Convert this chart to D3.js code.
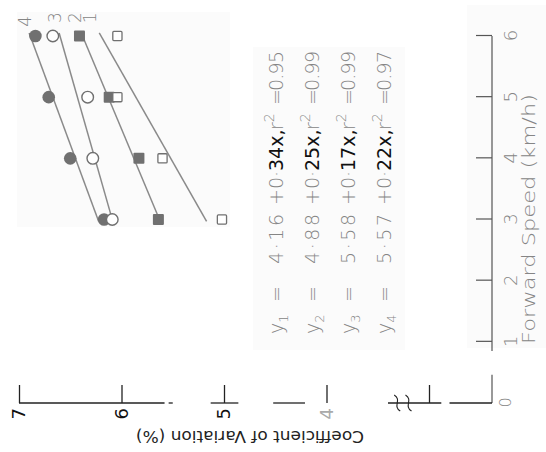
<!DOCTYPE html>
<html>
<head>
<meta charset="utf-8">
<script src="https://cdn.jsdelivr.net/npm/d3@7"></script>
<style>
  html, body { margin: 0; padding: 0; background: #fff; }
  svg { display: block; }
  text { font-family: "DejaVu Sans", "Liberation Sans", sans-serif; }
</style>
</head>
<body>
<svg id="chart" width="546" height="452"></svg>
<script>
(function(){
'use strict';

// forward speed (km/h) at which CV was measured
var speeds = [3, 4, 5, 6];
var seriesNames = ['1', '2', '3', '4'];

// coefficient of variation (%)
var cvSeries1 = [5.02, 5.60, 6.04, 6.04];
var cvSeries2 = [5.64, 5.83, 6.12, 6.41];
var cvSeries3 = [6.09, 6.28, 6.33, 6.67];
var cvSeries4 = [6.17, 6.50, 6.71, 6.84];

// fitted lines y = a + b x
var intercepts = [4.16, 4.88, 5.58, 5.57];
var slopes = [0.34, 0.25, 0.17, 0.22];
var rSquared = ['0.95', '0.99', '0.99', '0.97'];

var speedTicks = [0, 1, 2, 3, 4, 5, 6];
var cvTicks = [7, 6, 5, 4, 3];
var cvTickLabels = ['7', '6', '5', '4', ''];

// the scanned axis line is broken in places (values in axis units)
var cvAxisPieces = [[7, 5.58], [5.54, 5.50], [5.13, 4.86], [4.52, 4.21], [3.40, 2.88], [2.80, 0]];
var speedAxisPieces = [[0, 0.46], [0.85, 6]];

var W = 452;   // the chart is drawn upright, then turned a quarter left

var svg = d3.select('#chart');
var g = svg.append('g').attr('transform', 'translate(0,' + W + ') rotate(-90)');

var x = d3.scaleLinear().domain([0, 6]).range([49, 416]);
var y = d3.scaleLinear().domain([3, 7]).range([429, 19]);
var originY = 492;
var yb = function(v) { return v >= 2.5 ? y(v) : originY; };

var grey = '#707070', lineGrey = '#8a8a8a', textGrey = '#858585';

// faint paste-up patches of the original figure
[[225, 17, 215, 213], [102, 253, 303, 152], [104, 467, 343, 79]].forEach(function(r) {
    g.append('rect').attr('x', r[0]).attr('y', r[1]).attr('width', r[2]).attr('height', r[3])
        .attr('fill', '#fbfbfb');
});

// x axis (forward speed)
var xAxis = d3.axisBottom(x).tickValues(speedTicks).tickSizeInner(-16).tickSizeOuter(0).tickPadding(12)
    .tickFormat(d3.format('d'));
var gx = g.append('g').attr('transform', 'translate(0,' + originY + ')').call(xAxis);
gx.select('.domain').remove();
gx.selectAll('.tick line').attr('stroke', '#555').attr('stroke-width', 1.2);
gx.selectAll('.tick text').attr('font-size', 18).attr('fill', textGrey)
    .attr('font-family', '"DejaVu Sans", sans-serif').attr('font-weight', 300);
gx.selectAll('.tick').filter(function(d) { return d === 0; }).select('line').remove();
gx.selectAll('.tick').filter(function(d) { return d === 0; }).select('text')
    .attr('y', 8).attr('font-size', 16);
speedAxisPieces.forEach(function(p) {
    gx.append('line').attr('x1', x(p[0])).attr('x2', x(p[1])).attr('y1', 0).attr('y2', 0)
        .attr('stroke', '#555').attr('stroke-width', 1.2);
});

// y axis (coefficient of variation)
var yAxis = d3.axisLeft(y).tickValues(cvTicks).tickSizeInner(-18).tickSizeOuter(0).tickPadding(5)
    .tickFormat(function(d, i) { return cvTickLabels[i]; });
var gy = g.append('g').attr('transform', 'translate(' + x(0) + ',0)').call(yAxis);
gy.select('.domain').remove();
gy.selectAll('.tick line').attr('stroke', '#222').attr('stroke-width', 1.3);
gy.selectAll('.tick text').attr('font-size', 18)
    .attr('font-family', '"DejaVu Sans", sans-serif')
    .attr('fill', function(d) { return d === 4 ? '#aaa' : '#111'; });
cvAxisPieces.forEach(function(p) {
    gy.append('line').attr('x1', 0).attr('x2', 0).attr('y1', yb(p[0])).attr('y2', yb(p[1]))
        .attr('stroke', '#222').attr('stroke-width', 1.3);
});
// break marks
[3.31, 3.2].forEach(function(v) {
    var c = y(v);
    gy.append('path')
        .attr('d', 'M8,' + (c - 3) + ' C3,' + (c + 5) + ' -3,' + (c - 5) + ' -8,' + (c + 3))
        .attr('fill', 'none').attr('stroke', '#222').attr('stroke-width', 1.1);
});

// axis titles
g.append('text').attr('x', 108).attr('y', 535)
    .attr('font-size', 17).attr('font-weight', 300).attr('fill', textGrey)
    .attr('textLength', 250).attr('lengthAdjust', 'spacingAndGlyphs')
    .text('Forward  Speed (km/h)');
g.append('text').attr('transform', 'translate(15,250) rotate(-90)')
    .attr('text-anchor', 'middle').attr('dy', '0.35em')
    .attr('font-size', 16).attr('fill', '#222')
    .attr('textLength', 228).attr('lengthAdjust', 'spacingAndGlyphs')
    .text('Coefficient of Variation (%)');

// fitted lines
var fitDomain = [2.97, 6.05];
var line = d3.line().x(function(d) { return x(d[0]); }).y(function(d) { return y(d[1]); });
intercepts.forEach(function(a, i) {
    var pts = fitDomain.map(function(s) { return [s, a + slopes[i] * s]; });
    g.append('path').attr('d', line(pts)).attr('fill', 'none')
        .attr('stroke', lineGrey).attr('stroke-width', 1.5);
});

// series labels at the top end of each line
seriesNames.forEach(function(name, i) {
    var s = i === 3 ? 6.24 : 6.3;
    g.append('text').attr('x', x(s)).attr('y', y(intercepts[i] + slopes[i] * s))
        .attr('text-anchor', 'middle').attr('dy', '0.35em')
        .attr('font-size', 17).attr('font-weight', 300).attr('fill', textGrey)
        .text(name);
});

// markers: filled ones first, open ones on top
var pairs = function(vals) { return vals.map(function(v, i) { return [speeds[i], v]; }); };

g.append('g').selectAll('circle').data(pairs(cvSeries4)).enter().append('circle')
    .attr('cx', function(d) { return x(d[0]); }).attr('cy', function(d) { return y(d[1]); })
    .attr('r', 6.3).attr('fill', grey);

g.append('g').selectAll('rect').data(pairs(cvSeries2)).enter().append('rect')
    .attr('x', function(d) { return x(d[0]) - 5.5; }).attr('y', function(d) { return y(d[1]) - 5.5; })
    .attr('width', 11).attr('height', 11).attr('rx', 1).attr('fill', grey);

g.append('g').selectAll('circle').data(pairs(cvSeries3)).enter().append('circle')
    .attr('cx', function(d) { return x(d[0]); }).attr('cy', function(d) { return y(d[1]); })
    .attr('r', 5.8).attr('fill', '#fff').attr('stroke', grey).attr('stroke-width', 1.4);

g.append('g').selectAll('rect').data(pairs(cvSeries1)).enter().append('rect')
    .attr('x', function(d) { return x(d[0]) - 4.6; }).attr('y', function(d) { return y(d[1]) - 4.6; })
    .attr('width', 9.2).attr('height', 9.2).attr('rx', 1)
    .attr('fill', '#fff').attr('stroke', grey).attr('stroke-width', 1.3);

// regression equations
var fmt = function(v) { return v.toFixed(2).replace('.', '\u00b7'); };
var rowY = [283, 319, 355, 391];
intercepts.forEach(function(a, i) {
    var b = slopes[i].toFixed(2).split('.');
    var t = g.append('text').attr('y', rowY[i]).attr('font-size', 19).attr('font-weight', 300).attr('fill', textGrey);
    t.append('tspan').attr('x', 118).text('y');
    t.append('tspan').attr('dy', 5).attr('font-size', 13).text(String(i + 1));
    t.append('tspan').attr('x', 150).attr('dy', -5).text('=');
    t.append('tspan').attr('x', 188).attr('textLength', 50).text(fmt(a));
    t.append('tspan').attr('x', 247).text('+');
    t.append('tspan').attr('x', 263).text(b[0] + '\u00b7');
    t.append('tspan').attr('x', 281).attr('fill', '#111').attr('font-weight', 400).text(b[1] + 'x,');
    t.append('tspan').attr('x', 322).text('r');
    t.append('tspan').attr('dy', -9).attr('font-size', 14).text('2');
    t.append('tspan').attr('x', 347).attr('dy', 9).text('=');
    t.append('tspan').attr('x', 361).attr('textLength', 40).text(rSquared[i]);
});

})();
</script>
</body>
</html>
